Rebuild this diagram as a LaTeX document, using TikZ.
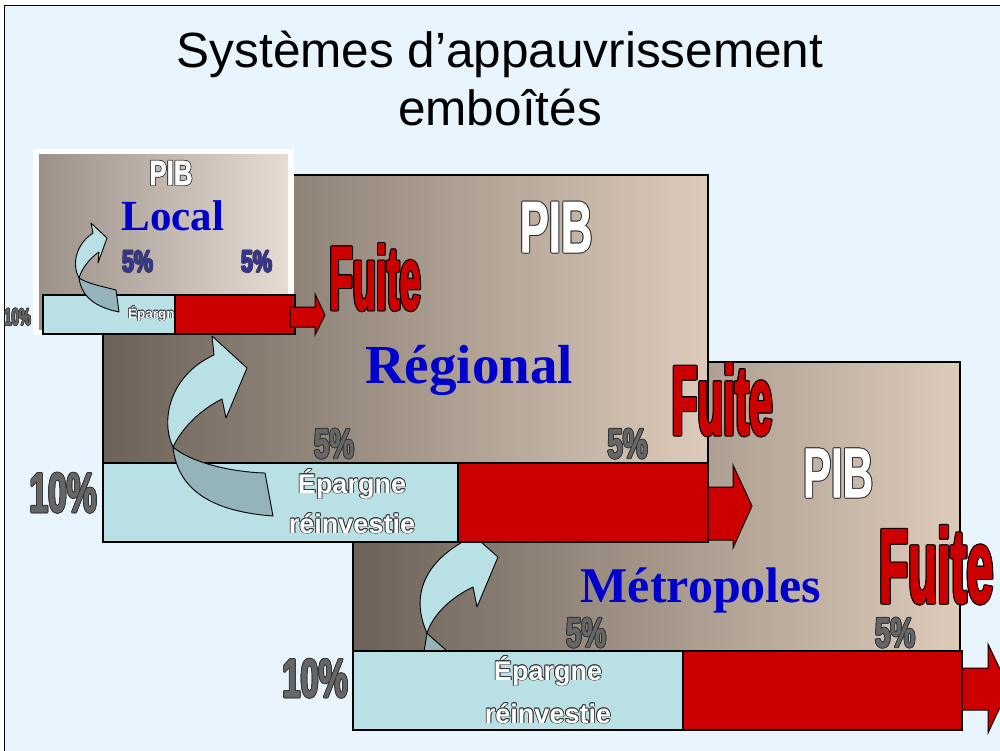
\documentclass[tikz,border=0pt]{standalone}
\usepackage{fontspec}
\usepackage{graphicx}
\setmainfont{Liberation Sans}
\newfontfamily\serifbf{Liberation Serif}
\newfontfamily\condf{Liberation Sans}[UprightFont={* Bold},FakeBold=1.5]
\definecolor{bgblue}{HTML}{E8F4FE}
\definecolor{barblue}{HTML}{B9E0E4}
\definecolor{redc}{HTML}{CC0000}
\definecolor{bluet}{HTML}{0000CC}
\definecolor{navy}{HTML}{333399}
\definecolor{grayt}{HTML}{666666}
\definecolor{darkol}{HTML}{333333}
\definecolor{under}{HTML}{95B4B9}
\definecolor{brL}{HTML}{6B6259}
\definecolor{brR}{HTML}{DDCBBA}
\definecolor{loL}{HTML}{9B9189}
\definecolor{loR}{HTML}{E7DCD3}
\newdimen\olw
\newcommand\olbox[4]{\begingroup\olw=#1\setbox0=\hbox{#4}%
 \rlap{\color{#2}%
  \rlap{\kern\olw\copy0}\rlap{\kern-\olw\copy0}%
  \rlap{\raise\olw\copy0}\rlap{\lower\olw\copy0}%
  \rlap{\kern.7\olw\raise.7\olw\copy0}\rlap{\kern-.7\olw\raise.7\olw\copy0}%
  \rlap{\kern.7\olw\lower.7\olw\copy0}\rlap{\kern-.7\olw\lower.7\olw\copy0}}%
 {\color{#3}\copy0}\endgroup}
\newcommand\ct[3]{{\fontsize{#1pt}{#1pt}\condf\scalebox{#2}[1]{#3}}}
\newcommand\cth[3]{{\fontsize{#1pt}{#1pt}\condf\addfontfeatures{FakeBold=3}\scalebox{#2}[1]{#3}}}
\newcommand\ep[2]{{\fontsize{#1pt}{#1pt}\selectfont\bfseries #2}}
\begin{document}
\begin{tikzpicture}[x=1pt,y=-1pt,
  lbl/.style={anchor=base,inner sep=0pt,outer sep=0pt},
  title/.style={lbl,font=\fontsize{49.5pt}{58pt}\selectfont},
  bigbox/.style={left color=brL,right color=brR,draw=black,line width=2.5pt},
  barL/.style={fill=barblue,draw=black,line width=1.3pt},
  barR/.style={fill=redc,draw=black,line width=1.3pt},
  redarr/.style={fill=redc,draw=black,line width=1pt,line join=miter},
  curvA/.style={fill=barblue,draw=black,line width=0.9pt,line join=round},
  curvD/.style={fill=under,draw=black,line width=0.9pt,line join=round},
  bluelbl/.style={lbl,text=bluet,font=\serifbf\bfseries}]
\useasboundingbox (0,0) rectangle (1000,751);
\fill[white] (0,0) rectangle (1000,751);
\fill[bgblue] (4.5,5.5) rectangle (1000,751);
\draw[line width=1.5pt] (4.5,751) -- (4.5,5.5) -- (1000,5.5);
% title
\node[title] (t1) at (500,68) {Systèmes d’appauvrissement};
\node[title] (t2) at (500,126) {emboîtés};
% ---------- Metropoles ----------
\path[bigbox] (353,362) rectangle (960,730);
\filldraw[curvD] (427,633) .. controls (435,641) and (443,647) .. (455,658) -- (423,658) -- cycle;
\filldraw[curvA] (473,587) -- (477,607) -- (498,557) -- (464,527) -- (466,540)
  .. controls (420,565) and (412,600) .. (427,633)
  .. controls (433,615) and (450,598) .. (473,587) -- cycle;
\draw[barL] (353,651) rectangle (683,730);
\draw[barR] (683,651) rectangle (962,730);
\draw[redarr] (962,668) -- (988,668) -- (988,644) -- (1009,688) -- (988,733) -- (988,710) -- (962,710) -- cycle;
\node[lbl] (pibM) at (838,497) {\olbox{1pt}{darkol}{white}{\ct{70}{0.6}{PIB}}};
\node[bluelbl,font=\serifbf\bfseries\fontsize{50pt}{50pt}\selectfont] (metro) at (701,602) {Métropoles};
\node[lbl] (pM1) at (586,647) {\olbox{0.9pt}{darkol}{grayt}{\ct{42}{0.66}{5\%}}};
\node[lbl] (pM2) at (895,647) {\olbox{0.9pt}{darkol}{grayt}{\ct{42}{0.66}{5\%}}};
\node[lbl] (epM1) at (548,680) {\olbox{0.9pt}{darkol}{white}{\ep{27}{Épargne}}};
\node[lbl] (epM2) at (548,723) {\olbox{0.9pt}{darkol}{white}{\ep{27}{réinvestie}}};
\node[lbl] (dM) at (315,697) {\olbox{0.9pt}{darkol}{grayt}{\ct{54.5}{0.6}{10\%}}};
\node[lbl] (fM) at (936,602) {\olbox{1.1pt}{black}{redc}{\cth{104}{0.46}{Fuite}}};
% ---------- Regional ----------
\path[bigbox] (103,175) rectangle (708,542);
\draw[barL] (103,463) rectangle (458,542);
\draw[barR] (458,463) rectangle (708,542);
\draw[redarr] (708,487) -- (733,487) -- (733,465) -- (752,506) -- (733,548) -- (733,540) -- (708,540) -- cycle;
\filldraw[curvD] (173,447) .. controls (190,462) and (230,472) .. (265,473) -- (273,516)
  .. controls (220,512) and (178,495) .. (173,447) -- cycle;
\filldraw[curvA] (222,399) -- (226,418) -- (247,368) -- (212,336) -- (214,355)
  .. controls (170,375) and (160,420) .. (173,447)
  .. controls (182,428) and (200,410) .. (222,399) -- cycle;
\node[lbl] (pibR) at (556,252) {\olbox{1pt}{darkol}{white}{\ct{72.6}{0.6}{PIB}}};
\node[bluelbl,font=\serifbf\bfseries\fontsize{55pt}{55pt}\selectfont] (reg) at (469,383) {Régional};
\node[lbl] (pR1) at (334,458) {\olbox{0.9pt}{darkol}{grayt}{\ct{42}{0.66}{5\%}}};
\node[lbl] (pR2) at (627.5,458) {\olbox{0.9pt}{darkol}{grayt}{\ct{42}{0.66}{5\%}}};
\node[lbl] (epR1) at (352,493) {\olbox{0.9pt}{darkol}{white}{\ep{27}{Épargne}}};
\node[lbl] (epR2) at (352,533) {\olbox{0.9pt}{darkol}{white}{\ep{27}{réinvestie}}};
\node[lbl] (dR) at (63,512) {\olbox{0.9pt}{darkol}{grayt}{\ct{56}{0.6}{10\%}}};
\node[lbl] (fR) at (722,434) {\olbox{1.1pt}{black}{redc}{\cth{97}{0.435}{Fuite}}};
% ---------- Local ----------
\fill[white] (33,149) rectangle (294,335);
\fill[left color=loL,right color=loR] (39,155) rectangle (288,329);
\draw[barL] (43,295) rectangle (175,334);
\node[lbl,anchor=base west] (epL) at (128,318) {\olbox{0.5pt}{darkol}{white}{\ep{13.5}{Épargne}}};
\draw[barR] (175,295) rectangle (295,334);
\draw[redarr] (290,307) -- (315,307) -- (315,294) -- (325,315) -- (315,335) -- (315,327) -- (290,327) -- cycle;
\filldraw[curvD] (79,278) .. controls (88,284) and (105,287) .. (116,290) -- (119,312)
  .. controls (100,308) and (82,300) .. (79,278) -- cycle;
\filldraw[curvA] (99,252) -- (98,263) -- (107,238) -- (91,223) -- (93,233)
  .. controls (75,245) and (72,265) .. (79,278)
  .. controls (82,268) and (90,258) .. (99,252) -- cycle;
\node[lbl] (pibL) at (171,185) {\olbox{0.7pt}{darkol}{white}{\ct{35}{0.74}{PIB}}};
\node[bluelbl,font=\serifbf\bfseries\fontsize{43pt}{43pt}\selectfont] (loc) at (173,231) {Local};
\node[lbl] (pL1) at (137.5,272) {\olbox{0.7pt}{black!70}{navy}{\ct{31}{0.69}{5\%}}};
\node[lbl] (pL2) at (256.5,272) {\olbox{0.7pt}{black!70}{navy}{\ct{31}{0.69}{5\%}}};
\node[lbl] (dL) at (17.5,325) {\olbox{0.6pt}{darkol}{grayt}{\ct{24}{0.55}{10\%}}};
\node[lbl] (fL) at (375,309) {\olbox{1.1pt}{black}{redc}{\cth{89}{0.43}{Fuite}}};
\end{tikzpicture}
\end{document}
